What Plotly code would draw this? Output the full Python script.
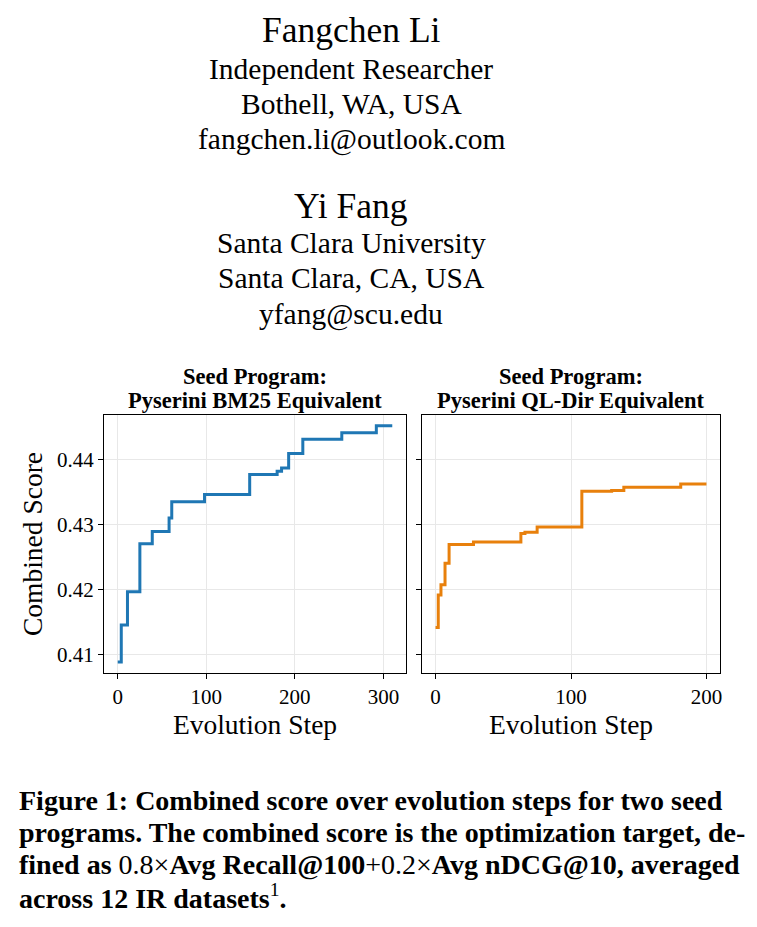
import plotly.graph_objects as go
from plotly.subplots import make_subplots

# ---- data ----
bm25_steps = [0, 4, 11, 25, 39, 58, 61, 98, 149, 180, 185, 193, 209, 253, 292, 310]
bm25_score = [0.4088, 0.4145, 0.4196, 0.4270, 0.4289, 0.4310, 0.4335, 0.4346, 0.4377,
              0.4382, 0.4387, 0.4409, 0.4431, 0.4441, 0.4452, 0.4452]

ql_steps = [0, 2, 4, 7, 10, 28, 63, 66, 75, 108, 130, 139, 181, 200]
ql_score = [0.4141, 0.4191, 0.4207, 0.4240, 0.4269, 0.4273, 0.4286, 0.4288, 0.4296,
            0.4351, 0.4352, 0.4357, 0.4362, 0.4362]

y_ticks = [0.41, 0.42, 0.43, 0.44]
x_ticks_left = [0, 100, 200, 300]
x_ticks_right = [0, 100, 200]

titles_line1 = ["Seed Program:", "Seed Program:"]
titles_line2 = ["Pyserini BM25 Equivalent", "Pyserini QL-Dir Equivalent"]

header_lines = [
    ("Fangchen Li", 35.5, 30),
    ("Independent Researcher", 29.5, 69),
    ("Bothell, WA, USA", 29.5, 104),
    ("fangchen.li@outlook.com", 29.5, 139),
    ("Yi Fang", 35.5, 206),
    ("Santa Clara University", 29.5, 243),
    ("Santa Clara, CA, USA", 29.5, 278),
    ("yfang@scu.edu", 29.5, 314),
]

caption_lines = [
    "<b>Figure 1: Combined score over evolution steps for two seed</b>",
    "<b>programs. The combined score is the optimization target, de-</b>",
    "<b>fined as </b>0.8×<b>Avg Recall@100</b>+0.2×<b>Avg nDCG@10, averaged</b>",
    "<b>across 12 IR datasets</b><sup>1</sup><b>.</b>",
]

W, H = 757, 927
FONT = "Liberation Serif, Times New Roman, serif"

fig = make_subplots(rows=1, cols=2, shared_yaxes=True)

fig.add_trace(go.Scatter(x=bm25_steps, y=bm25_score, mode="lines", line_shape="hv",
                         line=dict(color="#1f77b4", width=3), showlegend=False), 1, 1)
fig.add_trace(go.Scatter(x=ql_steps, y=ql_score, mode="lines", line_shape="hv",
                         line=dict(color="#e8800c", width=3), showlegend=False), 1, 2)

def px_x(p):
    return p / W

def px_y(p):
    return 1 - p / H

y_dom = [px_y(673), px_y(415)]
axis_common = dict(showline=True, mirror=True, linecolor="black", linewidth=1.3,
                   ticks="outside", ticklen=5, tickwidth=1, tickcolor="black",
                   showgrid=True, gridcolor="#e8e8e8", gridwidth=0.8, zeroline=False,
                   tickfont=dict(family=FONT, size=21, color="black"))

fig.update_layout(
    width=W, height=H,
    margin=dict(l=0, r=0, t=0, b=0),
    paper_bgcolor="white", plot_bgcolor="white",
    font=dict(family=FONT, color="black"),
    xaxis=dict(domain=[px_x(104), px_x(406)], range=[-15.5, 325.5], tickvals=x_ticks_left,
               title=dict(text="Evolution Step", font=dict(size=27.5), standoff=3), **axis_common),
    xaxis2=dict(domain=[px_x(422), px_x(720)], range=[-10, 210], tickvals=x_ticks_right,
                title=dict(text="Evolution Step", font=dict(size=27.5), standoff=3), **axis_common),
    yaxis=dict(domain=y_dom, range=[0.4071, 0.44685], tickvals=y_ticks,
               tickformat=".2f",
               title=dict(text="Combined Score", font=dict(size=27.5), standoff=6), **axis_common),
    yaxis2=dict(domain=y_dom, range=[0.4071, 0.44685], tickvals=y_ticks,
                showticklabels=False, **axis_common),
)
fig.layout.xaxis.automargin = False
fig.layout.xaxis2.automargin = False
fig.layout.yaxis.automargin = False

annotations = []
for text, size, yc in header_lines:
    annotations.append(dict(text=text, x=px_x(351), y=px_y(yc), xref="paper", yref="paper",
                            xanchor="center", yanchor="middle", showarrow=False,
                            font=dict(family=FONT, size=size, color="black")))

centers = [px_x(255), px_x(571)]
for cx, t1, t2 in zip(centers, titles_line1, titles_line2):
    annotations.append(dict(text=f"<b>{t1}</b>", x=cx, y=px_y(376), xref="paper", yref="paper",
                            xanchor="center", yanchor="middle", showarrow=False,
                            font=dict(family=FONT, size=22.5, color="black")))
    annotations.append(dict(text=f"<b>{t2}</b>", x=cx, y=px_y(401), xref="paper", yref="paper",
                            xanchor="center", yanchor="middle", showarrow=False,
                            font=dict(family=FONT, size=22.5, color="black")))

cap_y = [800, 832, 864, 896]
for line, yc in zip(caption_lines, cap_y):
    annotations.append(dict(text=line, x=px_x(17), y=px_y(yc), xref="paper", yref="paper",
                            xanchor="left", yanchor="middle", showarrow=False, align="left",
                            font=dict(family=FONT, size=28, color="black")))

fig.update_layout(annotations=annotations)

fig.write_html("out.html")
